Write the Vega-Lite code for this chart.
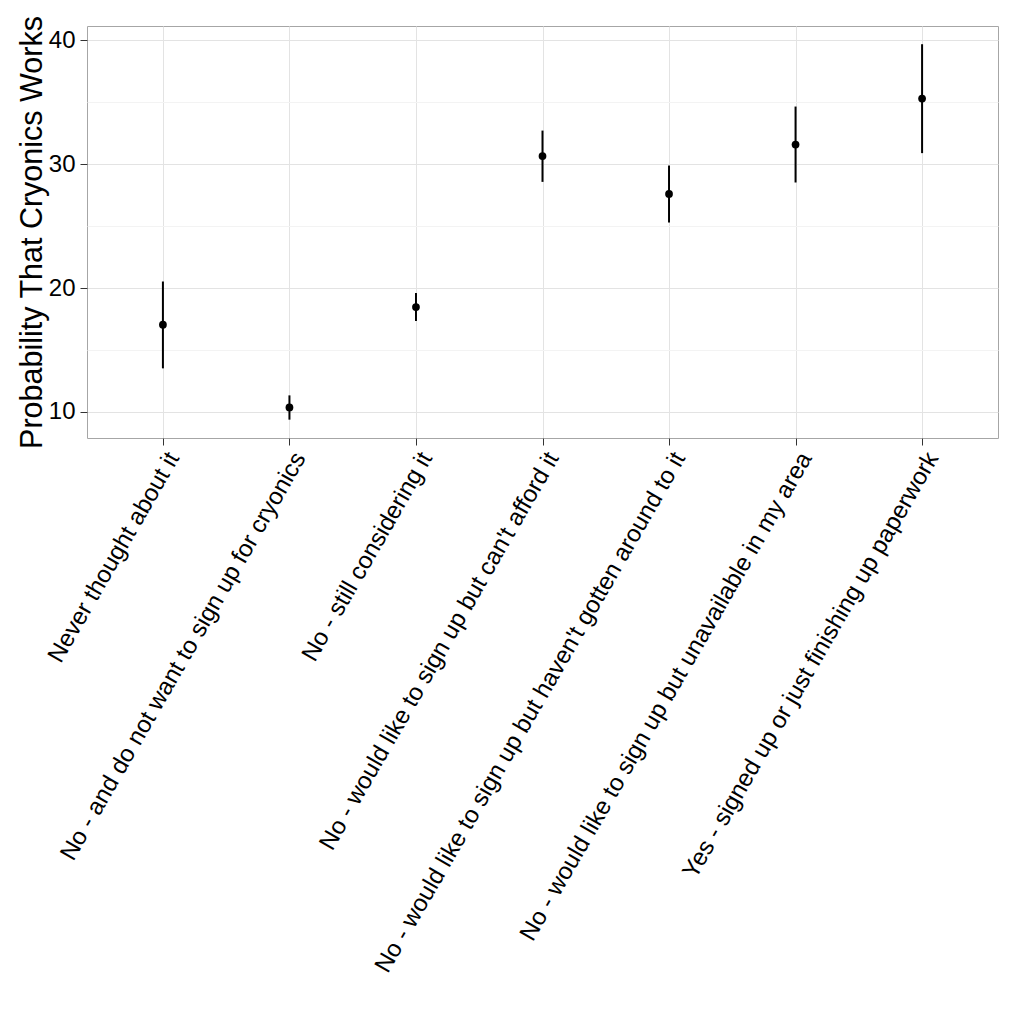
{
  "$schema": "https://vega.github.io/schema/vega-lite/v6.json",
  "width": 911,
  "height": 412,
  "autosize": {"type": "none"},
  "padding": {"left": 87, "top": 26, "right": 26, "bottom": 586},
  "background": "white",
  "config": {
    "font": "Liberation Sans",
    "view": {"stroke": "#a6a6a6", "strokeWidth": 1}
  },
  "data": {
    "values": [
      {"cat": "Never thought about it", "mean": 17.04, "lo": 13.52, "hi": 20.53},
      {"cat": "No - and do not want to sign up for cryonics", "mean": 10.37, "lo": 9.38, "hi": 11.34},
      {"cat": "No - still considering it", "mean": 18.47, "lo": 17.34, "hi": 19.6},
      {"cat": "No - would like to sign up but can't afford it", "mean": 30.65, "lo": 28.57, "hi": 32.71},
      {"cat": "No - would like to sign up but haven't gotten around to it", "mean": 27.6, "lo": 25.29, "hi": 29.89},
      {"cat": "No - would like to sign up but unavailable in my area", "mean": 31.58, "lo": 28.52, "hi": 34.65},
      {"cat": "Yes - signed up or just finishing up paperwork", "mean": 35.29, "lo": 30.89, "hi": 39.68}
    ]
  },
  "encoding": {
    "x": {
      "field": "cat",
      "type": "nominal",
      "sort": null,
      "scale": {"type": "point", "padding": 0.6},
      "axis": {
        "title": null,
        "labelAngle": -60,
        "labelAlign": "right",
        "labelBaseline": "top",
        "labelFontSize": 24.2,
        "labelColor": "#000000",
        "labelLimit": 2000,
        "labelPadding": 3,
        "tickSize": 7,
        "tickColor": "#333333",
        "domain": false,
        "grid": true,
        "gridColor": "#e3e3e3",
        "gridWidth": 1
      }
    }
  },
  "layer": [
    {
      "mark": {"type": "rule", "strokeWidth": 2, "color": "#000000"},
      "encoding": {
        "y": {
          "field": "lo",
          "type": "quantitative",
          "scale": {"domain": [7.9, 41.15], "nice": false, "zero": false},
          "axis": {
            "title": "Probability That Cryonics Works",
            "titleFontSize": 30.5,
            "titleFontWeight": "normal",
            "titleColor": "#000000",
            "titlePadding": 1,
            "values": [10, 15, 20, 25, 30, 35, 40],
            "labelExpr": "datum.value % 10 === 0 ? datum.label : ''",
            "labelFontSize": 24,
            "labelColor": "#000000",
            "labelPadding": 5,
            "tickSize": 7,
            "tickColor": "#333333",
            "tickOpacity": {"condition": {"test": "datum.value % 10 === 0", "value": 1}, "value": 0},
            "domain": false,
            "grid": true,
            "gridColor": {"condition": {"test": "datum.value % 10 === 0", "value": "#e3e3e3"}, "value": "#f3f3f3"},
            "gridWidth": 1
          }
        },
        "y2": {"field": "hi"}
      }
    },
    {
      "mark": {"type": "point", "filled": true, "size": 60, "color": "#000000", "opacity": 1},
      "encoding": {
        "y": {"field": "mean", "type": "quantitative"}
      }
    }
  ]
}
